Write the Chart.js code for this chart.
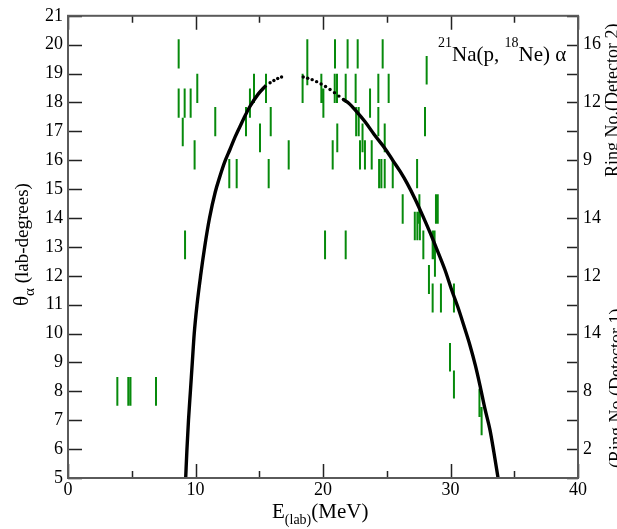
<!DOCTYPE html>
<html>
<head>
<meta charset="utf-8">
<script src="https://cdn.jsdelivr.net/npm/chart.js@4.4.1/dist/chart.umd.min.js"></script>
<style>
  html, body { margin: 0; padding: 0; background: #fff; }
  #wrap { width: 617px; height: 529px; }
</style>
</head>
<body>
<div id="wrap"><canvas id="thetaChart" width="617" height="529"></canvas></div>
<script>
// measured ring hits: energy (MeV) and the theta span of each ring (deg)
const barEnergy = [
  3.87, 4.73, 4.9, 6.9,
  8.68, 8.68, 9.15, 9.0, 9.62, 10.14, 9.93, 9.18,
  11.55, 12.65, 13.23, 13.96, 14.27, 14.59, 15.06, 15.53, 15.9, 15.74, 17.31, 18.4, 18.77,
  20.94, 21.93, 22.72, 24.68, 28.13,
  19.87, 20.92, 21.1, 21.78, 22.56, 24.34, 25.15,
  20.03, 23.69,
  22.6, 22.8, 24.34, 28.0,
  21.12, 23.1, 24.84,
  20.76, 22.9, 23.29, 23.82,
  24.4, 24.58, 24.84, 25.47, 27.38,
  26.25, 27.56, 28.86, 29.0,
  27.2, 27.4, 27.6,
  20.16, 21.78, 27.87, 28.6, 28.75,
  28.78, 28.31,
  28.6, 29.25, 30.27,
  29.96, 30.27, 32.27, 32.44
];
const barThetaLo = [
  7.5, 7.5, 7.5, 7.5,
  19.18, 17.47, 17.47, 16.48, 17.47, 17.98, 15.68, 12.57,
  16.83, 15.03, 15.03, 16.83, 17.47, 17.98, 16.28, 17.98, 16.83, 15.03, 15.68, 17.98, 18.6,
  19.18, 19.18, 19.18, 19.18, 18.62,
  17.98, 17.98, 17.98, 17.98, 17.98, 17.98, 17.98,
  17.47, 17.47,
  16.83, 16.83, 16.83, 16.83,
  16.28, 16.28, 16.28,
  15.68, 15.68, 15.68, 15.68,
  15.03, 15.03, 15.03, 15.03, 15.03,
  13.8, 13.8, 13.8, 13.8,
  13.23, 13.23, 13.23,
  12.57, 12.57, 12.57, 12.57, 12.57,
  11.97, 11.37,
  10.73, 10.73, 10.73,
  8.69, 7.75, 7.11, 6.48
];
const barThetaHi = [
  8.5, 8.5, 8.5, 8.5,
  20.19, 18.48, 18.48, 17.47, 18.48, 18.99, 16.69, 13.57,
  17.84, 16.04, 16.04, 17.84, 18.48, 18.99, 17.27, 18.99, 17.84, 16.04, 16.69, 18.99, 20.19,
  20.19, 20.19, 20.19, 20.19, 19.61,
  18.99, 18.99, 18.99, 18.99, 18.99, 18.99, 18.99,
  18.48, 18.48,
  17.84, 17.84, 17.84, 17.84,
  17.27, 17.27, 17.27,
  16.69, 16.69, 16.69, 16.69,
  16.04, 16.04, 16.04, 16.04, 16.04,
  14.82, 14.82, 14.82, 14.82,
  14.22, 14.22, 14.22,
  13.57, 13.57, 13.57, 13.57, 13.57,
  12.98, 12.37,
  11.73, 11.73, 11.73,
  9.67, 8.72, 8.09, 7.46
];

// kinematic curve
const curveLowE     = [9.23, 9.33, 9.45, 9.6, 9.75, 9.9, 10.12, 10.4, 10.72, 11.1, 11.55, 11.92, 12.3, 12.71, 13.1, 13.49, 13.9, 14.27, 14.9, 15.53];
const curveLowTheta = [5, 6, 7, 8, 9, 10, 11, 12, 13, 14, 14.9, 15.45, 15.95, 16.38, 16.8, 17.17, 17.55, 17.86, 18.28, 18.59];
const curveDotE     = [15.85, 16.15, 16.45, 16.75, 18.45, 18.8, 19.15, 19.5, 19.85, 20.2, 20.55, 20.9, 21.25, 21.6];
const curveDotTheta = [18.68, 18.76, 18.83, 18.88, 18.88, 18.84, 18.79, 18.72, 18.64, 18.55, 18.45, 18.34, 18.22, 18.1];
const curveHighE     = [21.6, 22.0, 22.6, 23.3, 24.0, 24.86, 25.5, 26.04, 26.6, 27.22, 27.8, 28.39, 28.9, 29.57, 30.1, 30.59, 31.1, 31.53, 31.95, 32.31, 32.7, 33.1, 33.4, 33.73];
const curveHighTheta = [18.1, 17.98, 17.7, 17.33, 16.9, 16.41, 15.98, 15.62, 15.2, 14.66, 14.1, 13.5, 12.95, 12.2, 11.5, 10.9, 10.2, 9.59, 8.9, 8.21, 7.4, 6.66, 5.9, 5];

// axis ticks
const xMajorTicks = [0, 10, 20, 30, 40];
const xMinorTicks = [5, 15, 25, 35];
const ringTickValues = [20, 18, 16, 14, 12, 10, 8, 6];
const ringTickLabels = ['16', '12', '9', '14', '12', '14', '8', '2'];

const SERIF = '"Liberation Serif", "DejaVu Serif", serif';
const GREEN = '#078a0c';

function toPoints(xs, ys) {
    return xs.map((x, i) => ({ x: x, y: ys[i] }));
}

// each ring is a short vertical segment, null breaks the line between them
const barPoints = [];
barEnergy.forEach((e, i) => {
    barPoints.push({ x: e, y: barThetaLo[i] });
    barPoints.push({ x: e, y: barThetaHi[i] });
    barPoints.push({ x: e, y: null });
});

// draw a run of text pieces with different sizes / offsets
function drawRich(ctx, parts, x, y) {
    let cx = x;
    parts.forEach(p => {
        ctx.font = `${p.size}px ${SERIF}`;
        ctx.fillText(p.text, cx, y + (p.dy || 0));
        cx += ctx.measureText(p.text).width;
    });
}

const framePlugin = {
    id: 'frame',
    afterDraw(chart) {
        const { ctx, chartArea: a, scales } = chart;
        ctx.save();

        // inward ticks
        ctx.strokeStyle = '#222';
        ctx.lineWidth = 1.5;
        ctx.beginPath();
        for (let v = 5; v <= 21; v++) {
            const py = Math.round(scales.y.getPixelForValue(v)) + 0.5;
            ctx.moveTo(a.left, py); ctx.lineTo(a.left + 14, py);
            ctx.moveTo(a.right, py); ctx.lineTo(a.right - 11, py);
        }
        xMajorTicks.forEach(v => {
            const px = Math.round(scales.x.getPixelForValue(v)) + 0.5;
            ctx.moveTo(px, a.bottom); ctx.lineTo(px, a.bottom - 14);
            ctx.moveTo(px, a.top); ctx.lineTo(px, a.top + 14);
        });
        xMinorTicks.forEach(v => {
            const px = Math.round(scales.x.getPixelForValue(v)) + 0.5;
            ctx.moveTo(px, a.bottom); ctx.lineTo(px, a.bottom - 7);
            ctx.moveTo(px, a.top); ctx.lineTo(px, a.top + 7);
        });
        ctx.stroke();

        // frame
        ctx.strokeStyle = '#5a5a5a';
        ctx.lineWidth = 2;
        ctx.strokeRect(a.left, a.top, a.right - a.left, a.bottom - a.top);

        ctx.fillStyle = '#000';
        ctx.textBaseline = 'alphabetic';
        ctx.textAlign = 'left';

        // x title
        drawRich(ctx, [
            { text: 'E', size: 21 },
            { text: '(lab)', size: 14, dy: 6 },
            { text: '(MeV)', size: 21 }
        ], 272, 518);

        // y title (rotated)
        ctx.save();
        ctx.translate(28, 306);
        ctx.rotate(-Math.PI / 2);
        drawRich(ctx, [
            { text: 'θ', size: 21 },
            { text: 'α', size: 15, dy: 6 },
            { text: ' (lab-degrees)', size: 19 }
        ], 0, 0);
        ctx.restore();

        // right titles
        ctx.save();
        ctx.translate(618, 177);
        ctx.rotate(-Math.PI / 2);
        drawRich(ctx, [{ text: 'Ring No.(Detector 2)', size: 18 }], 0, 0);
        ctx.restore();
        ctx.save();
        ctx.translate(622, 468);
        ctx.rotate(-Math.PI / 2);
        drawRich(ctx, [{ text: '(Ring No (Detector 1)', size: 18 }], 0, 0);
        ctx.restore();

        // reaction label
        drawRich(ctx, [
            { text: '21', size: 14, dy: -14 },
            { text: 'Na(p, ', size: 21 },
            { text: '18', size: 14, dy: -14 },
            { text: 'Ne) α', size: 21 }
        ], 438, 61);

        ctx.restore();
    }
};

const tickFont = { family: SERIF, size: 18 };

new Chart(document.getElementById('thetaChart'), {
    type: 'line',
    data: {
        datasets: [
            {
                data: toPoints(curveLowE, curveLowTheta),
                borderColor: '#000', borderWidth: 3.4,
                pointRadius: 0, cubicInterpolationMode: 'monotone', order: 1
            },
            {
                data: toPoints(curveDotE, curveDotTheta),
                showLine: false, pointRadius: 1.7, pointBorderWidth: 0,
                pointBackgroundColor: '#000', order: 1
            },
            {
                data: toPoints(curveHighE, curveHighTheta),
                borderColor: '#000', borderWidth: 3.4,
                pointRadius: 0, cubicInterpolationMode: 'monotone', order: 1
            },
            {
                data: barPoints,
                borderColor: GREEN, borderWidth: 2,
                pointRadius: 0, spanGaps: false, order: 2
            }
        ]
    },
    options: {
        responsive: false,
        devicePixelRatio: 1,
        animation: false,
        layout: { padding: { top: 14, left: 0, right: 0, bottom: 0 } },
        plugins: { legend: { display: false }, tooltip: { enabled: false } },
        scales: {
            x: {
                type: 'linear', min: 0, max: 40,
                grid: { display: false, drawTicks: false },
                border: { display: false },
                ticks: { stepSize: 10, color: '#000', font: tickFont, padding: 1, maxRotation: 0 },
                afterFit(s) { s.height = 51; }
            },
            y: {
                type: 'linear', position: 'left', min: 5, max: 21,
                grid: { display: false, drawTicks: false },
                border: { display: false },
                ticks: { stepSize: 1, color: '#000', font: tickFont, padding: 5 },
                afterFit(s) { s.width = 68; }
            },
            y2: {
                type: 'linear', position: 'right', min: 5, max: 21,
                grid: { display: false, drawTicks: false },
                border: { display: false },
                ticks: {
                    stepSize: 1, color: '#000', font: tickFont, padding: 5,
                    callback: v => {
                        const k = ringTickValues.indexOf(v);
                        return k >= 0 ? ringTickLabels[k] : '';
                    }
                },
                afterFit(s) { s.width = 39; }
            }
        }
    },
    plugins: [framePlugin]
});
</script>
</body>
</html>
